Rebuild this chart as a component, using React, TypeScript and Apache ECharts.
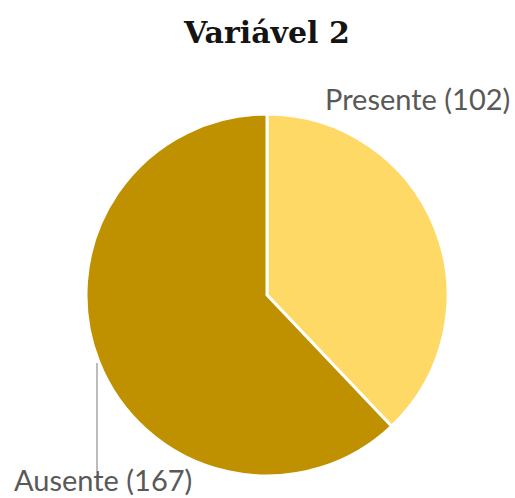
import React, { useEffect, useRef } from "react";
import * as echarts from "echarts";

const categories = ["Presente", "Ausente"];
const values = [102, 167];
const sliceColors = ["#FFD966", "#BF9000"];
const titleText = "Variável 2";

export default function App() {
  const ref = useRef<HTMLDivElement>(null);
  useEffect(() => {
    if (!ref.current) return;
    const chart = echarts.init(ref.current, undefined, { renderer: "svg" });
    chart.setOption({
      animation: false,
      backgroundColor: "#ffffff",
      title: {
        text: titleText,
        left: 179,
        top: 12,
        textStyle: {
          fontFamily: "DejaVu Serif",
          fontWeight: "bold",
          fontSize: 30,
          lineHeight: 30,
          color: "#141414",
        },
      },
      series: [
        {
          type: "pie",
          center: [267, 295],
          radius: 181,
          startAngle: 90,
          clockwise: true,
          itemStyle: { borderColor: "#ffffff", borderWidth: 3 },
          label: {
            show: true,
            formatter: "{b} ({c})",
            fontFamily: "Lato",
            fontSize: 29,
            lineHeight: 29,
            color: "#595959",
            overflow: "none",
            width: 300,
          },
          labelLine: {
            show: true,
            lineStyle: { color: "#a6a6a6", width: 1.5 },
          },
          labelLayout: (params: any) => {
            if (params.dataIndex === 0) {
              return { x: 325, y: 84, align: "left", verticalAlign: "top" };
            }
            return {
              x: 14,
              y: 465,
              align: "left",
              verticalAlign: "top",
              labelLinePoints: [
                [97, 363],
                [97, 420],
                [97, 473],
              ],
            };
          },
          data: categories.map((name, i) => ({
            name,
            value: values[i],
            itemStyle: { color: sliceColors[i] },
            labelLine: { show: i !== 0 },
          })),
        },
      ],
    });
    return () => chart.dispose();
  }, []);
  return (
    <div
      ref={ref}
      style={{ position: "absolute", left: 0, top: 0, width: 515, height: 498 }}
    />
  );
}
